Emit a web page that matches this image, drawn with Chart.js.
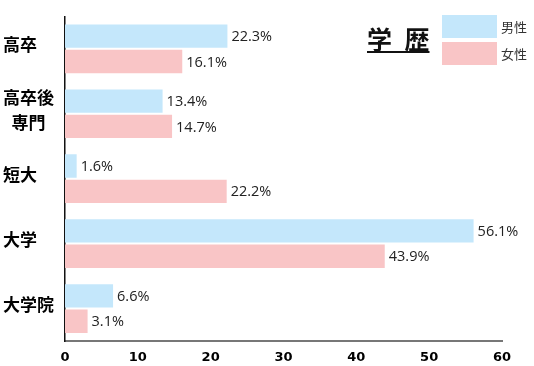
<!DOCTYPE html>
<html>
<head>
<meta charset="utf-8">
<script src="https://cdn.jsdelivr.net/npm/chart.js@4"></script>
<style>
  html, body { margin: 0; padding: 0; background: #fff; }
  #wrap { width: 534px; height: 366px; }
</style>
</head>
<body>
<div id="wrap"><canvas id="grafico"></canvas></div>
<script>
const categorias = [['高卒'], ['高卒後', '\u2002専門'], ['短大'], ['大学'], ['大学院']];
const masculino  = [22.3, 13.4, 1.6, 56.1, 6.6];
const feminino   = [16.1, 14.7, 22.2, 43.9, 3.1];
const ticksX     = [0, 10, 20, 30, 40, 50, 60];
const titulo     = '学\u2002歴';
const nomes      = ['男性', '女性'];
const cores      = ['#c4e7fb', '#f9c5c6'];

// rótulos de valor no fim de cada barra
const pluginValores = {
    id: 'valores',
    afterDatasetsDraw(chart) {
        const ctx = chart.ctx;
        ctx.save();
        ctx.font = '14.5px "Open Sans"';
        ctx.fillStyle = '#222';
        ctx.textAlign = 'left';
        ctx.textBaseline = 'middle';
        chart.data.datasets.forEach((ds, i) => {
            chart.getDatasetMeta(i).data.forEach((bar, j) => {
                ctx.fillText(ds.data[j].toFixed(1) + '%', bar.x + 4, bar.y + 1);
            });
        });
        ctx.restore();
    }
};

// título + legenda no canto superior direito
const pluginLegenda = {
    id: 'legendaCustom',
    afterDraw(chart) {
        const ctx = chart.ctx;
        ctx.save();
        ctx.font = 'bold 25px "Noto Sans CJK JP"';
        ctx.fillStyle = '#111';
        ctx.textBaseline = 'alphabetic';
        ctx.fillText(titulo, 367, 49);
        const w = ctx.measureText(titulo).width;
        ctx.fillRect(367, 51, w, 2);

        chart.data.datasets.forEach((ds, i) => {
            const y = 15 + i * 27;
            ctx.fillStyle = ds.backgroundColor;
            ctx.fillRect(442, y, 55, 23);
            ctx.fillStyle = '#333';
            ctx.font = '13px "Noto Sans CJK JP"';
            ctx.textBaseline = 'middle';
            ctx.fillText(ds.label, 501, y + 12);
        });
        ctx.restore();
    }
};

new Chart(document.getElementById('grafico'), {
    type: 'bar',
    data: {
        labels: categorias,
        datasets: [
            { label: nomes[0], data: masculino, backgroundColor: cores[0] },
            { label: nomes[1], data: feminino,  backgroundColor: cores[1] }
        ]
    },
    options: {
        indexAxis: 'y',
        responsive: true,
        maintainAspectRatio: false,
        animation: false,
        categoryPercentage: 0.78,
        barPercentage: 0.923,
        layout: { padding: { left: 3, right: 32, top: 8, bottom: 0 } },
        plugins: { legend: { display: false }, tooltip: { enabled: false } },
        scales: {
            x: {
                min: 0, max: 60,
                afterBuildTicks: s => { s.ticks = ticksX.map(v => ({ value: v })); },
                grid: { display: false },
                border: { color: '#777', width: 2 },
                ticks: { color: '#000', padding: 1, font: { family: 'DejaVu Sans', weight: 'bold', size: 13 } },
                afterFit: s => { s.height = 25; }
            },
            y: {
                grid: { display: false },
                border: { color: '#111', width: 1.5 },
                ticks: {
                    color: '#000', crossAlign: 'far', padding: 4, labelOffset: -4,
                    font: { family: 'Noto Sans CJK JP', weight: 'bold', size: 17, lineHeight: 1.45 }
                },
                afterFit: s => { s.width = 62; }
            }
        }
    },
    plugins: [pluginValores, pluginLegenda]
});
</script>
</body>
</html>
